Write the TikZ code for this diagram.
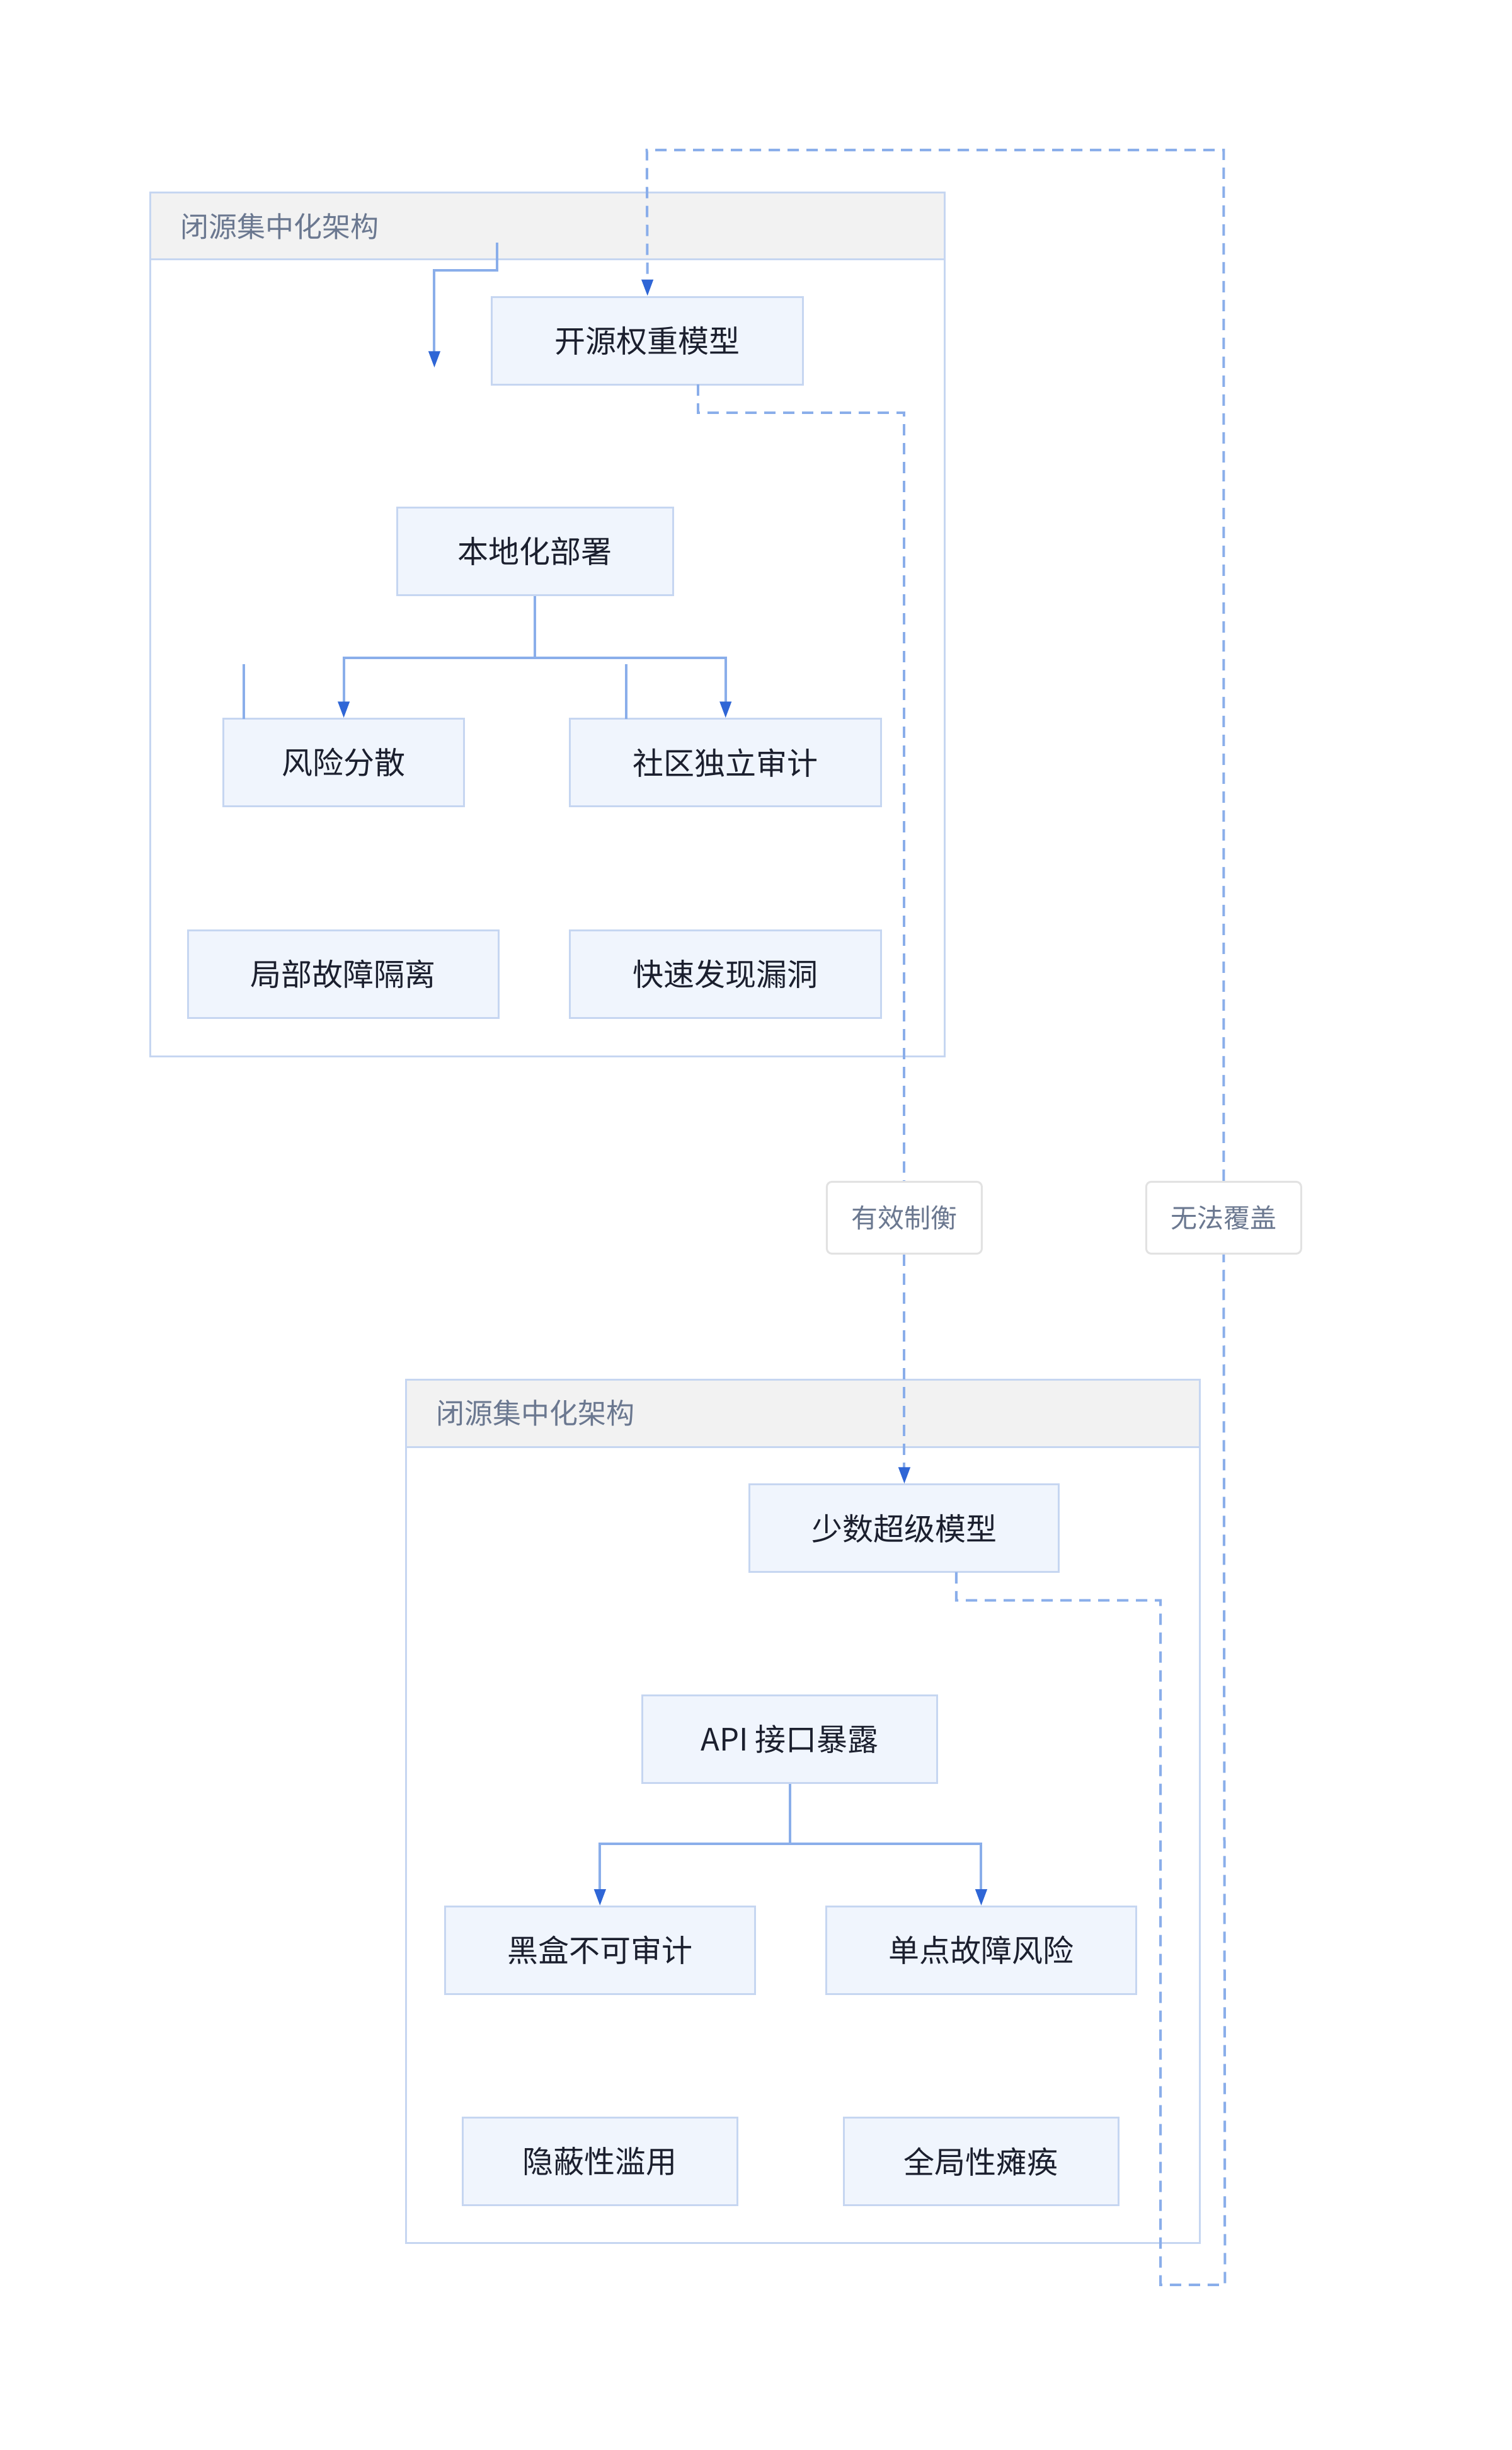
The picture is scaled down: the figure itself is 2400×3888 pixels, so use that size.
\documentclass[tikz,border=0pt]{standalone}
\usepackage{fontspec}
\setmainfont{Noto Sans CJK SC}
\usetikzlibrary{arrows.meta}
\definecolor{nfill}{HTML}{F0F5FD}
\definecolor{nline}{HTML}{C6D6F1}
\definecolor{eline}{HTML}{8AAEEA}
\definecolor{ahead}{HTML}{2F66D6}
\definecolor{hfill}{HTML}{F2F2F2}
\definecolor{ttext}{HTML}{6B7890}
\definecolor{ntext}{HTML}{1B1F2E}
\definecolor{lline}{HTML}{E2E2E2}
\begin{document}
\begin{tikzpicture}[x=1pt,y=-1pt,
  box/.style={draw=nline,fill=nfill,line width=3pt,inner sep=0pt,text=ntext,font=\fontsize{49}{58}\selectfont},
  lab/.style={draw=lline,fill=white,line width=3pt,rounded corners=8pt,inner sep=0pt,text=ttext,font=\fontsize{42}{50}\selectfont},
  edge/.style={draw=eline,line width=4pt},
  arr/.style={edge,-{Triangle[length=26pt,width=18pt,fill=ahead,color=ahead]}},
  dsh/.style={edge,dash pattern=on 18pt off 12pt},
  ctitle/.style={text=ttext,font=\fontsize{45}{54}\selectfont,anchor=west}]
\useasboundingbox (0,0) rectangle (2400,3888);
\fill[white] (0,0) rectangle (2400,3888);
\begin{scope}[x=0.992pt,y=-0.992pt]
% cluster 1
\draw[nline,line width=3pt,fill=white] (240,308) rectangle (1512,1690);
\draw[nline,line width=3pt,fill=hfill] (240,308) rectangle (1512,415);
\node[ctitle] (c1) at (285,362) {闭源集中化架构};
% cluster 2
\draw[nline,line width=3pt,fill=white] (650,2207) rectangle (1920,3588);
\draw[nline,line width=3pt,fill=hfill] (650,2207) rectangle (1920,2315);
\node[ctitle] (c2) at (695,2260) {闭源集中化架构};
% nodes
\node[box,minimum width=494pt,minimum height=139pt] (kai) at (1036,545) {开源权重模型};
\node[box,minimum width=438pt,minimum height=139pt] (ben) at (856,882) {本地化部署};
\node[box,minimum width=382pt,minimum height=139pt] (feng) at (550,1220) {风险分散};
\node[box,minimum width=494pt,minimum height=139pt] (she) at (1161,1220) {社区独立审计};
\node[box,minimum width=493pt,minimum height=139pt] (ju) at (549,1558) {局部故障隔离};
\node[box,minimum width=494pt,minimum height=139pt] (kuai) at (1161,1558) {快速发现漏洞};
\node[box,minimum width=491pt,minimum height=139pt] (shao) at (1447,2445) {少数超级模型};
\node[box,minimum width=468pt,minimum height=139pt] (api) at (1264,2782) {API 接口暴露};
\node[box,minimum width=492pt,minimum height=139pt] (hei) at (960,3120) {黑盒不可审计};
\node[box,minimum width=492pt,minimum height=139pt] (dan) at (1570,3120) {单点故障风险};
\node[box,minimum width=436pt,minimum height=139pt] (yin) at (960,3458) {隐蔽性滥用};
\node[box,minimum width=436pt,minimum height=139pt] (quan) at (1570,3458) {全局性瘫痪};
\node[lab,minimum width=246pt,minimum height=114pt] (l1) at (1447,1948) {有效制衡};
\node[lab,minimum width=246pt,minimum height=114pt] (l2) at (1958,1948) {无法覆盖};
% stubs
\coordinate (s0) at (795,388);
\coordinate (s0e) at (695,588);
\draw[arr] (s0) |- (745,432) -| (s0e);
\draw[edge] (390,1062) -- (390,1150);
\draw[edge] (1002,1062) -- (1002,1150);
% tree edges
\draw[arr] (ben.south) |- (700,1052) -| (feng.north);
\draw[arr] (ben.south) |- (1000,1052) -| (she.north);
\draw[arr] (api.south) |- (1100,2950) -| (hei.north);
\draw[arr] (api.south) |- (1400,2950) -| (dan.north);
% dashed
\draw[dsh] (1117,615) |- (1447,660) -- (l1.north);
\draw[dsh,-{Triangle[length=26pt,width=18pt,fill=ahead,color=ahead]}] (l1.south) -- (shao.north);
\draw[dsh] (1530,2515) |- (1857,2560) |- (1960,3655) -- (l2.south);
\draw[dsh,-{Triangle[length=26pt,width=18pt,fill=ahead,color=ahead]}] (l2.north) |- (1035,240) -- (kai.north);
\end{scope}
\end{tikzpicture}
\end{document}
